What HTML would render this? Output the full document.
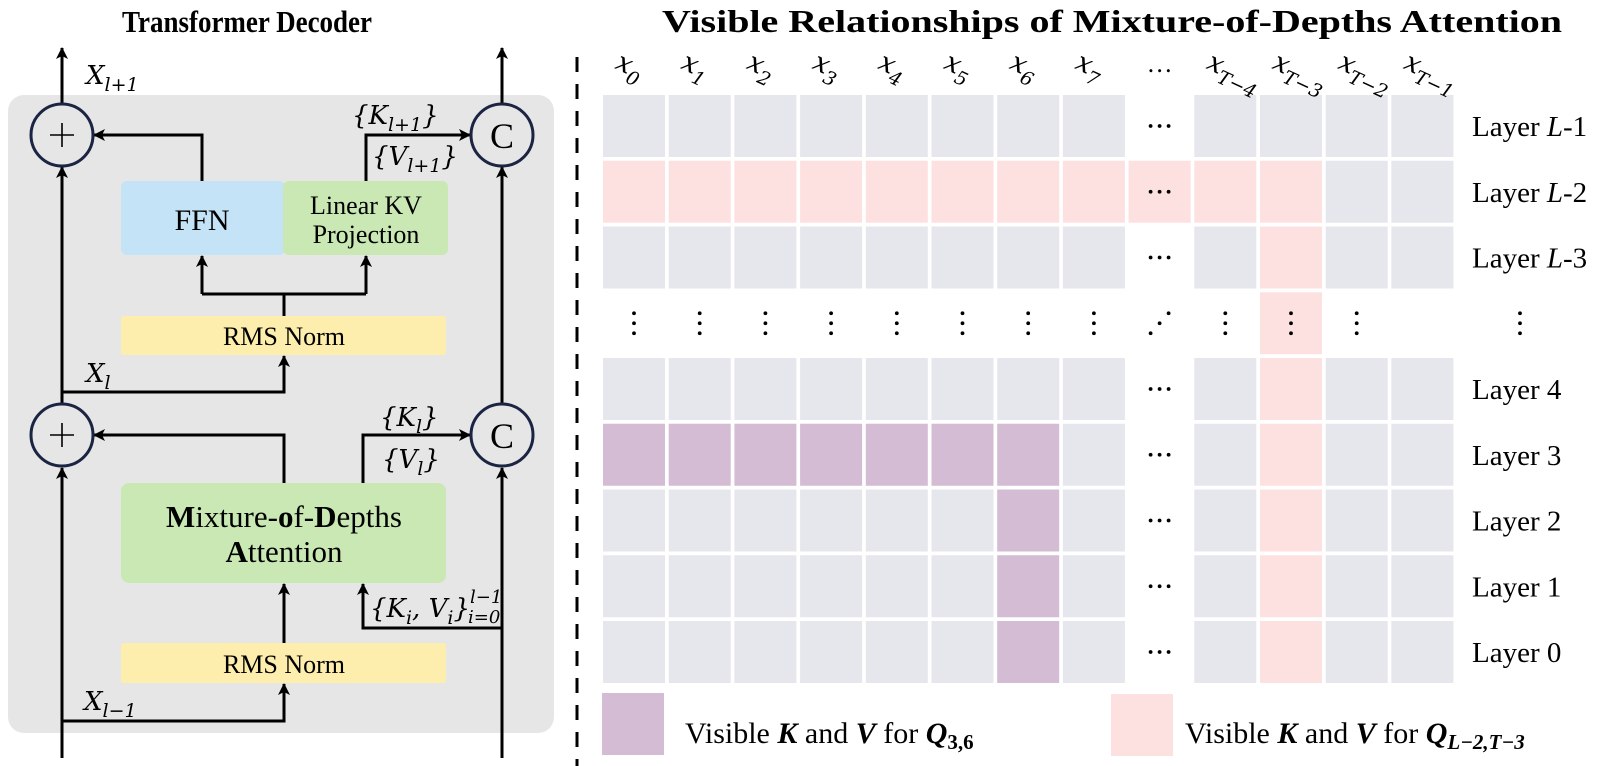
<!DOCTYPE html>
<html><head><meta charset="utf-8"><style>
html,body{margin:0;padding:0;background:#fff;}
svg{display:block;font-family:"Liberation Serif",serif;}
</style></head><body>
<svg id="fig" width="1600" height="766" viewBox="0 0 1600 766" xmlns="http://www.w3.org/2000/svg">
<defs>
<marker id="ah" viewBox="0 0 12 12" refX="11" refY="6" markerWidth="12" markerHeight="12" markerUnits="userSpaceOnUse" orient="auto">
<path d="M0,0 L12,6 L0,12 L3,6 Z" fill="#000"/>
</marker>
</defs>
<text x="122" y="32" font-size="31" font-weight="bold" textLength="250" lengthAdjust="spacingAndGlyphs">Transformer Decoder</text>
<rect x="8" y="95" width="546" height="638" rx="16" fill="#e6e6e6"/>
<g stroke="#000" stroke-width="3" fill="none">
<line x1="62" y1="758" x2="62" y2="468" marker-end="url(#ah)"/>
<line x1="62" y1="403" x2="62" y2="167" marker-end="url(#ah)"/>
<line x1="62" y1="104" x2="62" y2="48" marker-end="url(#ah)"/>
<line x1="502" y1="758" x2="502" y2="468" marker-end="url(#ah)"/>
<line x1="502" y1="403" x2="502" y2="167" marker-end="url(#ah)"/>
<line x1="502" y1="104" x2="502" y2="48" marker-end="url(#ah)"/>
<polyline points="62,721 284,721 284,684" marker-end="url(#ah)"/>
<line x1="284" y1="643" x2="284" y2="584" marker-end="url(#ah)"/>
<polyline points="284,483 284,435 94,435" marker-end="url(#ah)"/>
<polyline points="363,483 363,435 470,435" marker-end="url(#ah)"/>
<polyline points="502,628 363,628 363,584" marker-end="url(#ah)"/>
<polyline points="62,392 284,392 284,356" marker-end="url(#ah)"/>
<polyline points="284,316 284,294"/>
<polyline points="202,294 366,294"/>
<line x1="202" y1="294" x2="202" y2="256" marker-end="url(#ah)"/>
<line x1="366" y1="294" x2="366" y2="256" marker-end="url(#ah)"/>
<polyline points="202,181 202,135 94,135" marker-end="url(#ah)"/>
<polyline points="366,181 366,135 470,135" marker-end="url(#ah)"/>
</g>
<rect x="121" y="181" width="164" height="74" rx="6" fill="#c5e3f6"/>
<rect x="283" y="181" width="165" height="74" rx="6" fill="#c9e8b3"/>
<text x="202" y="230" font-size="30" text-anchor="middle">FFN</text>
<text x="366" y="214" font-size="26" text-anchor="middle">Linear KV</text>
<text x="366" y="243" font-size="26" text-anchor="middle">Projection</text>
<rect x="121" y="316" width="325" height="39" rx="3" fill="#fdeead"/>
<text x="284" y="345" font-size="26" text-anchor="middle">RMS Norm</text>
<rect x="121" y="483" width="325" height="100" rx="8" fill="#c9e8b3"/>
<text x="284" y="527" font-size="31" text-anchor="middle"><tspan font-weight="bold">M</tspan>ixture-<tspan font-weight="bold">o</tspan>f-<tspan font-weight="bold">D</tspan>epths</text>
<text x="284" y="562" font-size="31" text-anchor="middle"><tspan font-weight="bold">A</tspan>ttention</text>
<rect x="121" y="643" width="325" height="40" rx="3" fill="#fdeead"/>
<text x="284" y="673" font-size="26" text-anchor="middle">RMS Norm</text>
<g stroke="#1b2442" stroke-width="3" fill="none">
<circle cx="62" cy="135" r="31"/><circle cx="62" cy="435" r="31"/>
<circle cx="502" cy="135" r="31"/><circle cx="502" cy="435" r="31"/>
</g>
<g stroke="#000" stroke-width="1.6"><line x1="50" y1="135" x2="74" y2="135"/><line x1="62" y1="123" x2="62" y2="147"/><line x1="50" y1="435" x2="74" y2="435"/><line x1="62" y1="423" x2="62" y2="447"/></g>
<text x="502" y="148" font-size="36" text-anchor="middle">C</text>
<text x="502" y="448" font-size="36" text-anchor="middle">C</text>
<g font-family="'DejaVu Serif','Liberation Serif',serif" font-style="italic" font-size="26">
<text x="86" y="84">X<tspan font-size="19" dy="7">l+1</tspan></text>
<text x="86" y="382">X<tspan font-size="19" dy="7">l</tspan></text>
<text x="84" y="710">X<tspan font-size="19" dy="7">l−1</tspan></text>
<text x="352" y="124">{K<tspan font-size="19" dy="7">l+1</tspan><tspan dy="-7">}</tspan></text>
<text x="372" y="165">{V<tspan font-size="19" dy="7">l+1</tspan><tspan dy="-7">}</tspan></text>
<text x="380" y="426">{K<tspan font-size="19" dy="7">l</tspan><tspan dy="-7">}</tspan></text>
<text x="382" y="468">{V<tspan font-size="19" dy="7">l</tspan><tspan dy="-7">}</tspan></text>
<text x="370" y="617">{K<tspan font-size="19" dy="7">i</tspan><tspan dy="-7">, V</tspan><tspan font-size="19" dy="7">i</tspan><tspan dy="-7">}</tspan></text>
<text x="470" y="603" font-size="18">l−1</text>
<text x="468" y="623" font-size="18">i=0</text>
</g>
<line x1="577" y1="57" x2="577" y2="766" stroke="#000" stroke-width="3" stroke-dasharray="15,12"/>
<text x="662" y="32" font-size="32" font-weight="bold" textLength="900" lengthAdjust="spacingAndGlyphs">Visible Relationships of Mixture-of-Depths Attention</text>
<g id="grid"></g>
<rect x="602" y="693" width="62" height="62" fill="#d3bcd4"/>
<text x="685" y="743" font-size="30">Visible <tspan font-weight="bold" font-style="italic">K</tspan> and <tspan font-weight="bold" font-style="italic">V</tspan> for <tspan font-weight="bold" font-style="italic">Q</tspan><tspan font-weight="bold" font-size="21" dy="6">3,6</tspan></text>
<rect x="1111" y="694" width="62" height="62" fill="#fde0e0"/>
<text x="1185" y="743" font-size="30">Visible <tspan font-weight="bold" font-style="italic">K</tspan> and <tspan font-weight="bold" font-style="italic">V</tspan> for <tspan font-weight="bold" font-style="italic">Q</tspan><tspan font-weight="bold" font-style="italic" font-size="21" dy="6">L−2,T−3</tspan></text>
</svg>
<script>
const colLabels = ["0","1","2","3","4","5","6","7","…","T−4","T−3","T−2","T−1"];
const rowLabels = ["L-1","L-2","L-3","⋮","4","3","2","1","0"];
const rowStates = [
 "g g g g g g g g e g g g g",
 "p p p p p p p p p p p g g",
 "g g g g g g g g e g p g g",
 "d d d d d d d d x d q d n",
 "g g g g g g g g e g p g g",
 "u u u u u u u g e g p g g",
 "g g g g g g u g e g p g g",
 "g g g g g g u g e g p g g",
 "g g g g g g u g e g p g g"
];
const NS="http://www.w3.org/2000/svg";
const grid=document.getElementById('grid');
const X0=603,PX=65.7,Y0=95,PY=65.75,CW=62;
const colX=i=>X0+i*PX, rowY=j=>Y0+j*PY;
const fills={g:"#e6e7ec",p:"#fde0e0",u:"#d3bcd4",q:"#fde0e0"};
function dot(x,y){const c=document.createElementNS(NS,'circle');c.setAttribute('cx',x);c.setAttribute('cy',y);c.setAttribute('r',1.9);c.setAttribute('fill','#000');grid.appendChild(c);}
rowStates.forEach((rs,j)=>{
 rs.split(' ').forEach((s,i)=>{
  const x=colX(i),y=rowY(j),cx=x+CW/2,cy=y+CW/2;
  if(fills[s]){
   const r=document.createElementNS(NS,'rect');
   r.setAttribute('x',x);r.setAttribute('y',y);r.setAttribute('width',CW);r.setAttribute('height',CW);r.setAttribute('fill',fills[s]);
   
   
   grid.appendChild(r);
  }
  if(s==='e'||(s==='p'&&i===8)){dot(cx-9,cy);dot(cx,cy);dot(cx+9,cy);}
  if(s==='d'||s==='q'){dot(cx,cy-10);dot(cx,cy);dot(cx,cy+10);}
  if(s==='x'){dot(cx-9,cy+10);dot(cx,cy);dot(cx+9,cy-10);}
 });
});
colLabels.forEach((lab,i)=>{
 const cx=colX(i)+CW/2;
 const t=document.createElementNS(NS,'text');
 
 
 if(lab==="…"){t.setAttribute('x',cx);t.setAttribute('y',72);t.setAttribute('text-anchor','middle');t.setAttribute('font-size','26');t.textContent='…';}
 else{
  t.setAttribute('font-family',"'DejaVu Serif','Liberation Serif',serif");
  t.setAttribute('font-style','italic');t.setAttribute('font-size','27');
  t.setAttribute('transform','translate('+(cx-20)+',68) rotate(25)');
  t.innerHTML='x<tspan font-size="19" dy="8">'+lab+'</tspan>';
 }
 grid.appendChild(t);
});
rowLabels.forEach((lab,j)=>{
 const cy=rowY(j)+CW/2;
 const t=document.createElementNS(NS,'text');
 
 
 t.setAttribute('font-size','29');
 if(lab==="⋮"){dot(1520,cy-10);dot(1520,cy);dot(1520,cy+10);return;}
 t.setAttribute('x',1472);t.setAttribute('y',cy+10);
 if(lab.startsWith('L')) t.innerHTML='Layer <tspan font-style="italic">L</tspan>'+lab.slice(1);
 else t.textContent='Layer '+lab;
 grid.appendChild(t);
});
</script>
</body></html>
